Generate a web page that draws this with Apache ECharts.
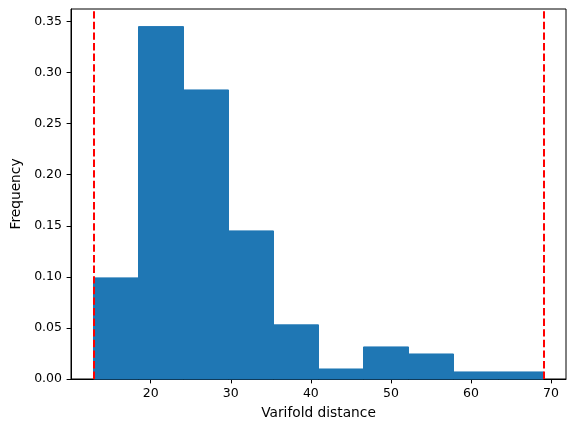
<!DOCTYPE html>
<html>
<head>
<meta charset="utf-8">
<script src="https://cdn.jsdelivr.net/npm/echarts@6/dist/echarts.min.js"></script>
<style>html,body{margin:0;padding:0;background:#fff}#c{width:576px;height:432px}</style>
</head>
<body>
<div id="c"></div>
<script>
// Histogram data
const binStart = 12.85;
const binEnd = 69.06;
const binCount = 10;
const frequencies = [0.099, 0.345, 0.283, 0.145, 0.053, 0.0098, 0.0314, 0.0245, 0.0069, 0.0069];
const refLines = [12.85, 69.06];
const xTicks = [20, 30, 40, 50, 60, 70];
const yTicks = [0, 0.05, 0.10, 0.15, 0.20, 0.25, 0.30, 0.35];

const binWidth = (binEnd - binStart) / binCount;
const bars = frequencies.map((f, i) => [binStart + i * binWidth, binStart + (i + 1) * binWidth, f]);
const xPad = (binEnd - binStart) * 0.05;
const yMax = Math.max(...frequencies) * 1.05;

const font = 'DejaVu Sans';
const chart = echarts.init(document.getElementById('c'), null, {renderer: 'canvas'});
chart.setOption({
  animation: false,
  grid: {left: 71, right: 10, top: 9, bottom: 53, show: true, borderColor: '#000', borderWidth: 1, backgroundColor: 'transparent'},
  xAxis: {
    type: 'value', min: binStart - xPad, max: binEnd + xPad,
    splitLine: {show: false},
    axisLine: {show: true, onZero: false, lineStyle: {color: '#000', width: 1}},
    axisTick: {show: true, length: 4.4, customValues: xTicks, lineStyle: {color: '#000'}},
    axisLabel: {customValues: xTicks, margin: 8, color: '#000', fontFamily: font, fontSize: 12.5},
    name: 'Varifold distance', nameLocation: 'middle', nameGap: 27,
    nameTextStyle: {color: '#000', fontFamily: font, fontSize: 13.75}
  },
  yAxis: {
    type: 'value', min: 0, max: yMax,
    splitLine: {show: false},
    axisLine: {show: true, lineStyle: {color: '#000', width: 1}},
    axisTick: {show: true, length: 4.4, customValues: yTicks, lineStyle: {color: '#000'}},
    axisLabel: {customValues: yTicks, margin: 9, color: '#000', fontFamily: font, fontSize: 12.5,
      formatter: v => v.toFixed(2)},
    name: 'Frequency', nameLocation: 'middle', nameGap: 48,
    nameTextStyle: {color: '#000', fontFamily: font, fontSize: 13.75}
  },
  series: [{
    type: 'custom',
    data: bars,
    encode: {x: [0, 1], y: 2},
    renderItem: function (params, api) {
      const p0 = api.coord([api.value(0), 0]);
      const p1 = api.coord([api.value(1), api.value(2)]);
      return {
        type: 'rect',
        shape: {x: p0[0], y: p1[1], width: p1[0] - p0[0], height: p0[1] - p1[1]},
        style: {fill: '#1f77b4', stroke: '#1f77b4', lineWidth: 1}
      };
    },
    markLine: {
      silent: true, symbol: 'none', label: {show: false},
      lineStyle: {color: '#ff0000', type: [7.4, 3.2], width: 2},
      data: refLines.map(v => ({xAxis: v}))
    },
    z: 2
  }]
});
</script>
</body>
</html>
